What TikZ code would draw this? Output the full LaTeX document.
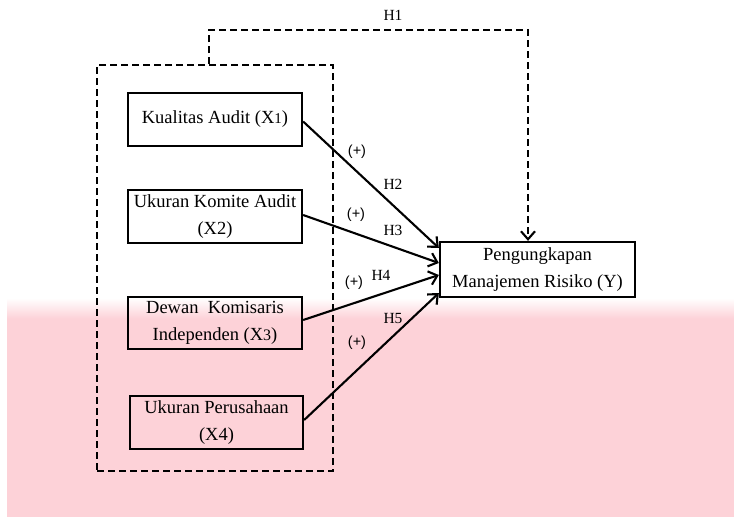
\documentclass[tikz,border=0pt]{standalone}
\usepackage{fontspec}
\setmainfont{Liberation Serif}
\newfontfamily\labsans{Liberation Sans}
\usetikzlibrary{arrows.meta}
\definecolor{bandpink}{RGB}{253,210,216}
\begin{document}
\begin{tikzpicture}[x=1pt,y=-1pt,
  varbox/.style={draw, line width=2.3pt, align=center, inner sep=0pt,
    font=\fontsize{18.5}{27}\selectfont},
  grpbox/.style={draw, line width=2pt, dash pattern=on 7pt off 4pt, inner sep=0pt},
  arr/.style={line width=2.1pt, -{Straight Barb[length=8pt,width=14pt,line width=2.1pt]}},
  hyparr/.style={line width=2pt, dash pattern=on 7pt off 4pt,
    -{Straight Barb[length=8pt,width=14pt,line width=2.1pt]}},
  plus/.style={font=\labsans\fontsize{14.5}{16}\selectfont},
  hlab/.style={font=\fontsize{15.5}{16}\selectfont}
]
\useasboundingbox (0,0) rectangle (734,522);
% background band
\fill[bandpink] (7,318) rectangle (734,517);
\shade[top color=white, bottom color=bandpink] (7,298) rectangle (734,318.5);

% group box
\node[grpbox, minimum width=236pt, minimum height=406pt] (grp) at (215,268) {};

% variable boxes
\node[varbox, minimum width=174pt, minimum height=53pt] (x1) at (215,119.5)
  {Kualitas Audit (X{\fontsize{15}{16}\selectfont 1})};
\node[varbox, minimum width=174pt, minimum height=53pt] (x2) at (215,216.5)
  {Ukuran Komite Audit\\(X2)};
\node[varbox, minimum width=174pt, minimum height=52pt] (x3) at (215,323)
  {Dewan\ \ Komisaris\\Independen (X{\fontsize{16}{16}\selectfont 3})};
\node[varbox, minimum width=173pt, minimum height=53pt] (x4) at (216.5,422.5)
  {Ukuran Perusahaan\\(X4)};
\node[varbox, minimum width=195pt, minimum height=55pt] (y) at (537.5,269.5)
  {Pengungkapan\\Manajemen Risiko (Y)};

% H1 dashed path
\draw[hyparr] ([xshift=-6pt]grp.north) -- ++(0,-34) -| ([xshift=-9.5pt]y.north);
\node[hlab] (h1) at (393,15) {H1};

% arrows
\draw[arr] ([yshift=-2pt]x1.east) -- ([yshift=21.5pt]y.west);
\draw[arr] ([yshift=1.5pt]x2.east) -- ([yshift=6.5pt]y.west);
\draw[arr] ([yshift=3pt]x3.east) -- ([yshift=-5.5pt]y.west);
\draw[arr] ([yshift=2.5pt]x4.east) -- ([yshift=-23.5pt]y.west);

% labels
\node[plus] (p1) at (357,152) {(+)};
\node[hlab] (h2) at (393,184) {H2};
\node[plus] (p2) at (356,215) {(+)};
\node[hlab] (h3) at (393,230) {H3};
\node[plus] (p3) at (354,283) {(+)};
\node[hlab] (h4) at (381,275) {H4};
\node[hlab] (h5) at (393,318) {H5};
\node[plus] (p4) at (357,343) {(+)};
\end{tikzpicture}
\end{document}
